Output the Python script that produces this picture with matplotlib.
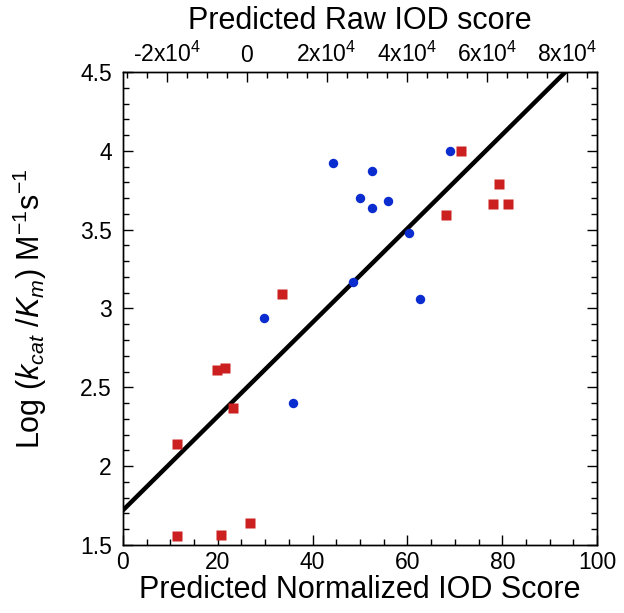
import numpy as np
import matplotlib
matplotlib.use('Agg')
import matplotlib.pyplot as plt
from matplotlib.ticker import MultipleLocator, FuncFormatter

plt.rcParams['font.family'] = ['Liberation Sans', 'DejaVu Sans']
plt.rcParams['mathtext.fontset'] = 'custom'
plt.rcParams['mathtext.rm'] = 'Liberation Sans'
plt.rcParams['mathtext.it'] = 'Liberation Sans:italic'

# blue circles
blue_x = [44.2, 52.5, 49.9, 52.5, 55.8, 60.4, 69.0, 48.6, 62.7, 29.8, 35.8]
blue_y = [3.92, 3.87, 3.70, 3.64, 3.68, 3.48, 4.00, 3.17, 3.06, 2.94, 2.40]

# red squares
red_x = [71.3, 79.2, 78.0, 81.2, 68.1, 33.5, 19.8, 21.6, 23.3, 11.5, 11.3, 20.6, 26.9]
red_y = [4.00, 3.79, 3.66, 3.66, 3.59, 3.09, 2.61, 2.62, 2.37, 2.14, 1.555, 1.56, 1.64]

# fit line
fit_intercept = 1.72
fit_slope = 0.0298

# top axis range (raw IOD score) matching bottom 0..100
raw_lim = (-30900, 87600)

fig = plt.figure(figsize=(6.24, 6.13), dpi=100)
ax = fig.add_axes([0.197, 0.111, 0.76, 0.7715])

xs = np.array([0, 100])
ax.plot(xs, fit_intercept + fit_slope * xs, color='black', lw=3.2, zorder=2)
ax.plot(blue_x, blue_y, 'o', color='#0b2ccf', ms=6.8, mec='none', zorder=3)
ax.plot(red_x, red_y, 's', color='#cc1f1f', ms=6.5, mec='none', zorder=3)

ax.set_xlim(0, 100)
ax.set_ylim(1.5, 4.5)
ax.xaxis.set_major_locator(MultipleLocator(20))
ax.xaxis.set_minor_locator(MultipleLocator(5))
ax.yaxis.set_major_locator(MultipleLocator(0.5))
ax.yaxis.set_minor_locator(MultipleLocator(0.1))
ax.yaxis.set_major_formatter(FuncFormatter(lambda v, p: '%g' % v))
ax.tick_params(which='both', direction='in', labelsize=16.5, right=True, width=1)
ax.tick_params(which='major', length=7)
ax.tick_params(which='minor', length=4)
ax.tick_params(axis='x', pad=4)
ax.tick_params(axis='y', pad=8)

ax.set_xlabel('Predicted Normalized IOD Score', fontsize=22, labelpad=1)
ax.set_ylabel(r'Log ($k_{cat}$ /$K_m$) M$^{-1}$s$^{-1}$', fontsize=22, labelpad=22)

ax2 = ax.twiny()
ax2.set_xlim(*raw_lim)
ax2.xaxis.set_major_locator(MultipleLocator(20000))
ax2.xaxis.set_minor_locator(MultipleLocator(5000))


def raw_fmt(v, p):
    if abs(v) < 1:
        return '0'
    return r'%dx10$^{4}$' % round(v / 10000)


ax2.xaxis.set_major_formatter(FuncFormatter(raw_fmt))
ax2.tick_params(which='both', direction='in', labelsize=16.5, width=1)
ax2.tick_params(which='major', length=7)
ax2.tick_params(which='minor', length=4)
ax2.set_xlabel('Predicted Raw IOD score', fontsize=22, labelpad=9)

for a in (ax, ax2):
    for s in a.spines.values():
        s.set_linewidth(1)

fig.savefig('out.png', dpi=100)
